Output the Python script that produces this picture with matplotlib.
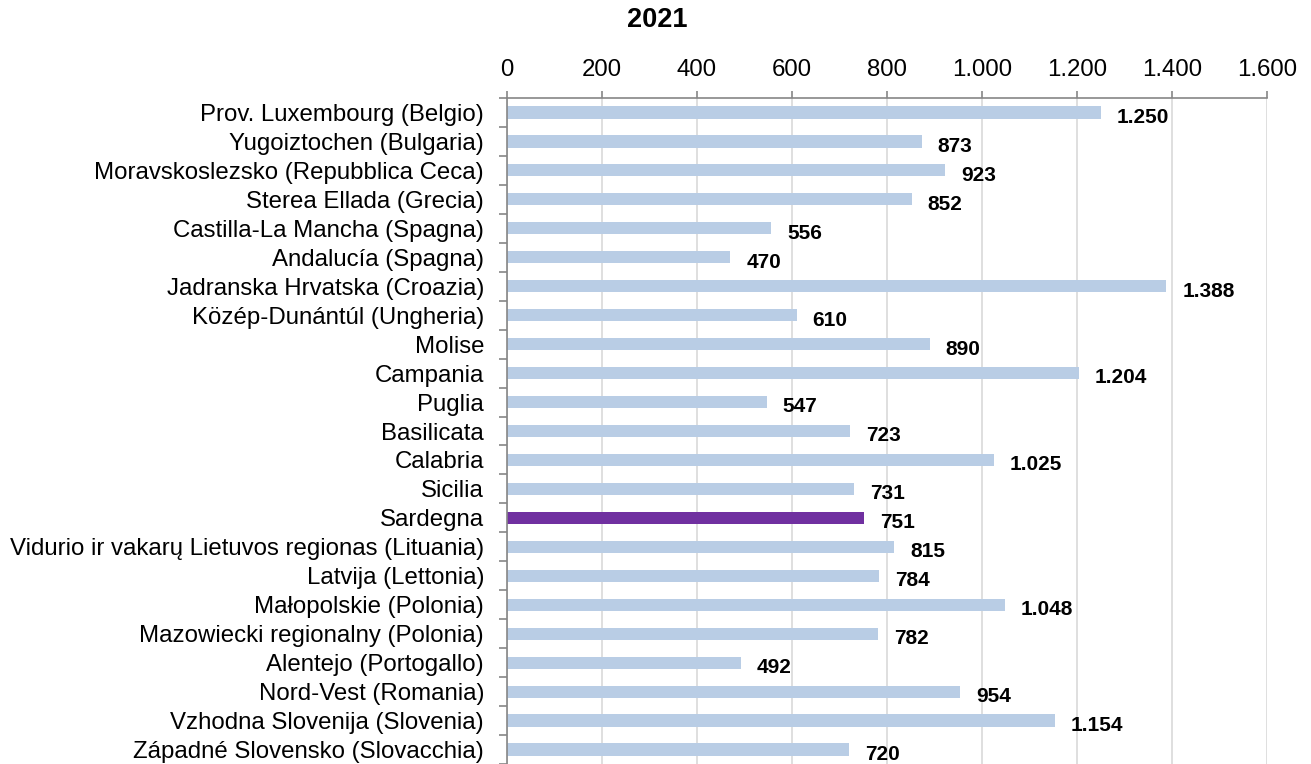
import matplotlib.pyplot as plt
import matplotlib.ticker as mticker
import numpy as np

plt.rcParams['font.family'] = ['Liberation Sans', 'DejaVu Sans']

regioni = ["Prov. Luxembourg (Belgio)", "Yugoiztochen (Bulgaria)",
           "Moravskoslezsko (Repubblica Ceca)", "Sterea Ellada (Grecia)",
           "Castilla-La Mancha (Spagna)", "Andalucía (Spagna)",
           "Jadranska Hrvatska (Croazia)", "Közép-Dunántúl (Ungheria)",
           "Molise", "Campania", "Puglia", "Basilicata", "Calabria", "Sicilia",
           "Sardegna", "Vidurio ir vakarų Lietuvos regionas (Lituania)",
           "Latvija (Lettonia)", "Małopolskie (Polonia)",
           "Mazowiecki regionalny (Polonia)", "Alentejo (Portogallo)",
           "Nord-Vest (Romania)", "Vzhodna Slovenija (Slovenia)",
           "Západné Slovensko (Slovacchia)"]
valori = [1250, 873, 923, 852, 556, 470, 1388, 610, 890, 1204, 547, 723,
          1025, 731, 751, 815, 784, 1048, 782, 492, 954, 1154, 720]
evidenziata = "Sardegna"


def fmt(v):
    return f"{v:,.0f}".replace(",", ".")


fig = plt.figure(figsize=(13.11, 7.64), dpi=100)
ax = fig.add_axes([0.3867, 0.0, 0.5797, 0.8717])

y = np.arange(len(regioni))
colori = ["#7030A0" if r == evidenziata else "#B9CDE5" for r in regioni]
ax.barh(y, valori, height=0.42, color=colori, zorder=2)

# etichette dei valori a destra delle barre
for yi, v in zip(y, valori):
    ax.annotate(fmt(v), (v, yi), xytext=(11.5, -3.5), textcoords="offset points",
                ha="left", va="center", fontsize=15, fontweight="bold")

ax.set_xlim(0, 1600)
ax.set_ylim(len(regioni) - 0.5, -0.5)
ax.xaxis.tick_top()
ax.set_xticks(np.arange(0, 1601, 200))
ax.xaxis.set_major_formatter(mticker.FuncFormatter(lambda v, p: fmt(v)))
ax.grid(axis="x", color="#D9D9D9", linewidth=1.2, zorder=0)

ax.set_yticks(y)
ax.set_yticklabels(regioni)
ax.set_yticks(np.arange(-0.5, len(regioni), 1), minor=True)
ax.tick_params(axis="y", which="major", length=0, pad=16.5, labelsize=17.3)
ax.tick_params(axis="y", which="minor", length=6, color="#868686", width=1.2)
ax.tick_params(axis="x", length=5, color="#868686", width=1.2, labelsize=17.3, pad=7)

for s in ["right", "bottom"]:
    ax.spines[s].set_visible(False)
for s in ["left", "top"]:
    ax.spines[s].set_color("#868686")
    ax.spines[s].set_linewidth(1.2)

fig.text(0.5015, 0.974, "2021", ha="center", va="center", fontsize=19.5, fontweight="bold")

fig.savefig("out.png", dpi=100)
